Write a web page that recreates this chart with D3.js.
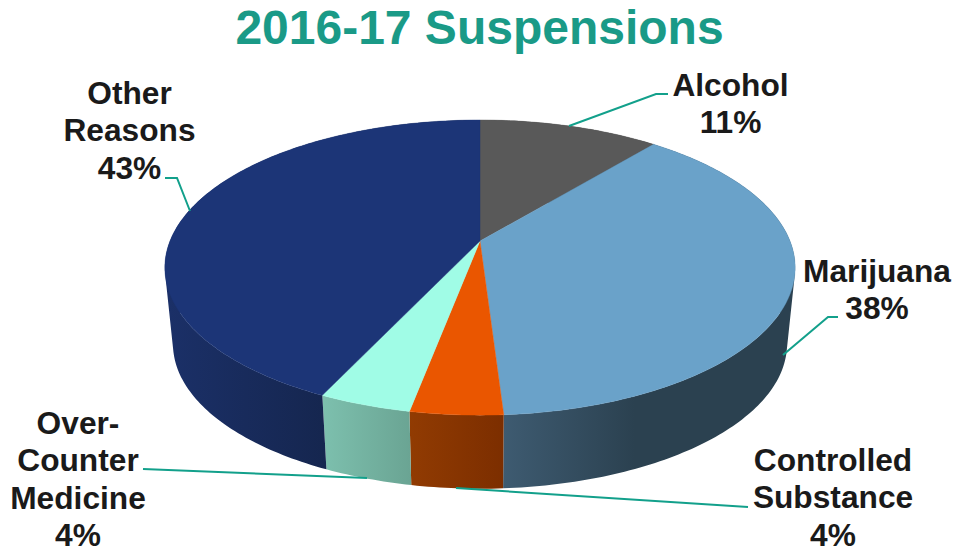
<!DOCTYPE html>
<html>
<head>
<meta charset="utf-8">
<script src="https://cdn.jsdelivr.net/npm/d3@7"></script>
<style>
  html, body { margin: 0; padding: 0; background: #fff; }
  svg { display: block; }
  text { font-family: "Liberation Sans", Arial, sans-serif; font-weight: bold; }
</style>
</head>
<body>
<div id="chart"></div>
<script>
var categories = ["Alcohol", "Marijuana", "Controlled Substance", "Over-Counter Medicine", "Other Reasons"];
var values = [11, 38, 4, 4, 43];
var topColors = ["#595959", "#6aa2c9", "#ea5600", "#a0fce6", "#1c3577"];
var sideLeft = ["#4a4a4a", "#3e5b71", "#913b02", "#7dc0ae", "#1b3068"];
var sideRight = ["#3a3a3a", "#2b4150", "#7c2e00", "#6aa493", "#15264f"];

var width = 957;
var height = 549;

// perspective of the two rims, fitted by eye
var topRim = { cx: 480, cy: 241, rx: 310, ry: 142.8, k: 0.18 };
var bottomRim = { cx: 480, cy: 318, rx: 302, ry: 140, k: 0.18 };

var labels = [
  { lines: ["Alcohol", "11%"], x: 730.5, y: 96 },
  { lines: ["Marijuana", "38%"], x: 877, y: 282 },
  { lines: ["Controlled", "Substance", "4%"], x: 833, y: 471 },
  { lines: ["Over-", "Counter", "Medicine", "4%"], x: 78, y: 434 },
  { lines: ["Other", "Reasons", "43%"], x: 129.5, y: 104 }
];
var leaders = [
  [[569, 126], [656, 94], [668, 94]],
  [[783, 355], [828, 317], [838, 317]],
  [[456, 488], [748, 507]],
  [[367, 478], [143, 469]],
  [[190, 211], [177, 178], [165, 178]]
];

var svg = d3
  .select("#chart")
  .append("svg")
  .attr("width", width)
  .attr("height", height);

var defs = svg.append("defs");

var slices = d3.pie().sort(null).startAngle(0).endAngle(2 * Math.PI)(values);

function project(rim, angle) {
  var u = Math.sin(angle);
  var v = -Math.cos(angle);
  var w = 1 - rim.k * v;
  return [rim.cx + (rim.rx * u) / w, rim.cy + (rim.ry * v) / w];
}

function rimPoints(rim, d) {
  var n = Math.max(8, Math.ceil((d.endAngle - d.startAngle) * 60));
  return d3.range(n + 1).map(function(i) {
    return project(rim, d.startAngle + ((d.endAngle - d.startAngle) * i) / n);
  });
}

var line = d3.line();

// wall = one quad per rim step, all wound the same way so the
// outline follows the tangent between the rims and nothing cancels out
function wallPath(d) {
  var a = rimPoints(topRim, d);
  var b = rimPoints(bottomRim, d);
  return d3
    .range(a.length - 1)
    .map(function(i) {
      var quad = [a[i], a[i + 1], b[i + 1], b[i]];
      if (d3.polygonArea(quad) < 0) quad.reverse();
      return line(quad) + "Z";
    })
    .join("");
}

slices.forEach(function(d, i) {
  // only the front part of the wall counts for the shading
  var pts = rimPoints(topRim, d).concat(rimPoints(bottomRim, d));
  var front = pts.filter(function(p) {
    return p[1] > topRim.cy + 26;
  });
  var ext = d3.extent(front.length ? front : pts, function(p) {
    return p[0];
  });
  var grad = defs
    .append("linearGradient")
    .attr("id", "side" + i)
    .attr("gradientUnits", "userSpaceOnUse")
    .attr("x1", ext[0])
    .attr("x2", ext[1])
    .attr("y1", 0)
    .attr("y2", 0);
  grad.append("stop").attr("offset", 0).attr("stop-color", sideLeft[i]);
  grad.append("stop").attr("offset", i == 1 ? 0.45 : 1).attr("stop-color", sideRight[i]);
  if (i == 1) grad.append("stop").attr("offset", 1).attr("stop-color", sideRight[i]);
});

// side walls first, the top covers whatever faces away
svg
  .selectAll(".side")
  .data(slices)
  .enter()
  .append("path")
  .attr("class", "side")
  .attr("d", wallPath)
  .attr("fill", function(d, i) {
    return "url(#side" + i + ")";
  });

svg
  .selectAll(".top")
  .data(slices)
  .enter()
  .append("path")
  .attr("class", "top")
  .attr("d", function(d) {
    return line([[topRim.cx, topRim.cy]].concat(rimPoints(topRim, d))) + "Z";
  })
  .attr("fill", function(d, i) {
    return topColors[i];
  })
  .attr("stroke", function(d, i) {
    return topColors[i];
  })
  .attr("stroke-width", 0.4);

svg
  .selectAll(".leader")
  .data(leaders)
  .enter()
  .append("path")
  .attr("class", "leader")
  .attr("d", line)
  .attr("fill", "none")
  .attr("stroke", "#12a08b")
  .attr("stroke-width", 2);

svg
  .append("text")
  .attr("x", 479.5)
  .attr("y", 44)
  .attr("text-anchor", "middle")
  .attr("font-size", 48)
  .attr("fill", "#1a9a87")
  .text("2016-17 Suspensions");

var labelText = svg
  .selectAll(".label")
  .data(labels)
  .enter()
  .append("text")
  .attr("class", "label")
  .attr("text-anchor", "middle")
  .attr("font-size", 31.7)
  .attr("fill", "#1a1a1a");

labelText
  .selectAll("tspan")
  .data(function(d) {
    return d.lines.map(function(t, i) {
      return { t: t, x: d.x, y: d.y + i * 37.3 };
    });
  })
  .enter()
  .append("tspan")
  .attr("x", function(d) {
    return d.x;
  })
  .attr("y", function(d) {
    return d.y;
  })
  .text(function(d) {
    return d.t;
  });
</script>
</body>
</html>
